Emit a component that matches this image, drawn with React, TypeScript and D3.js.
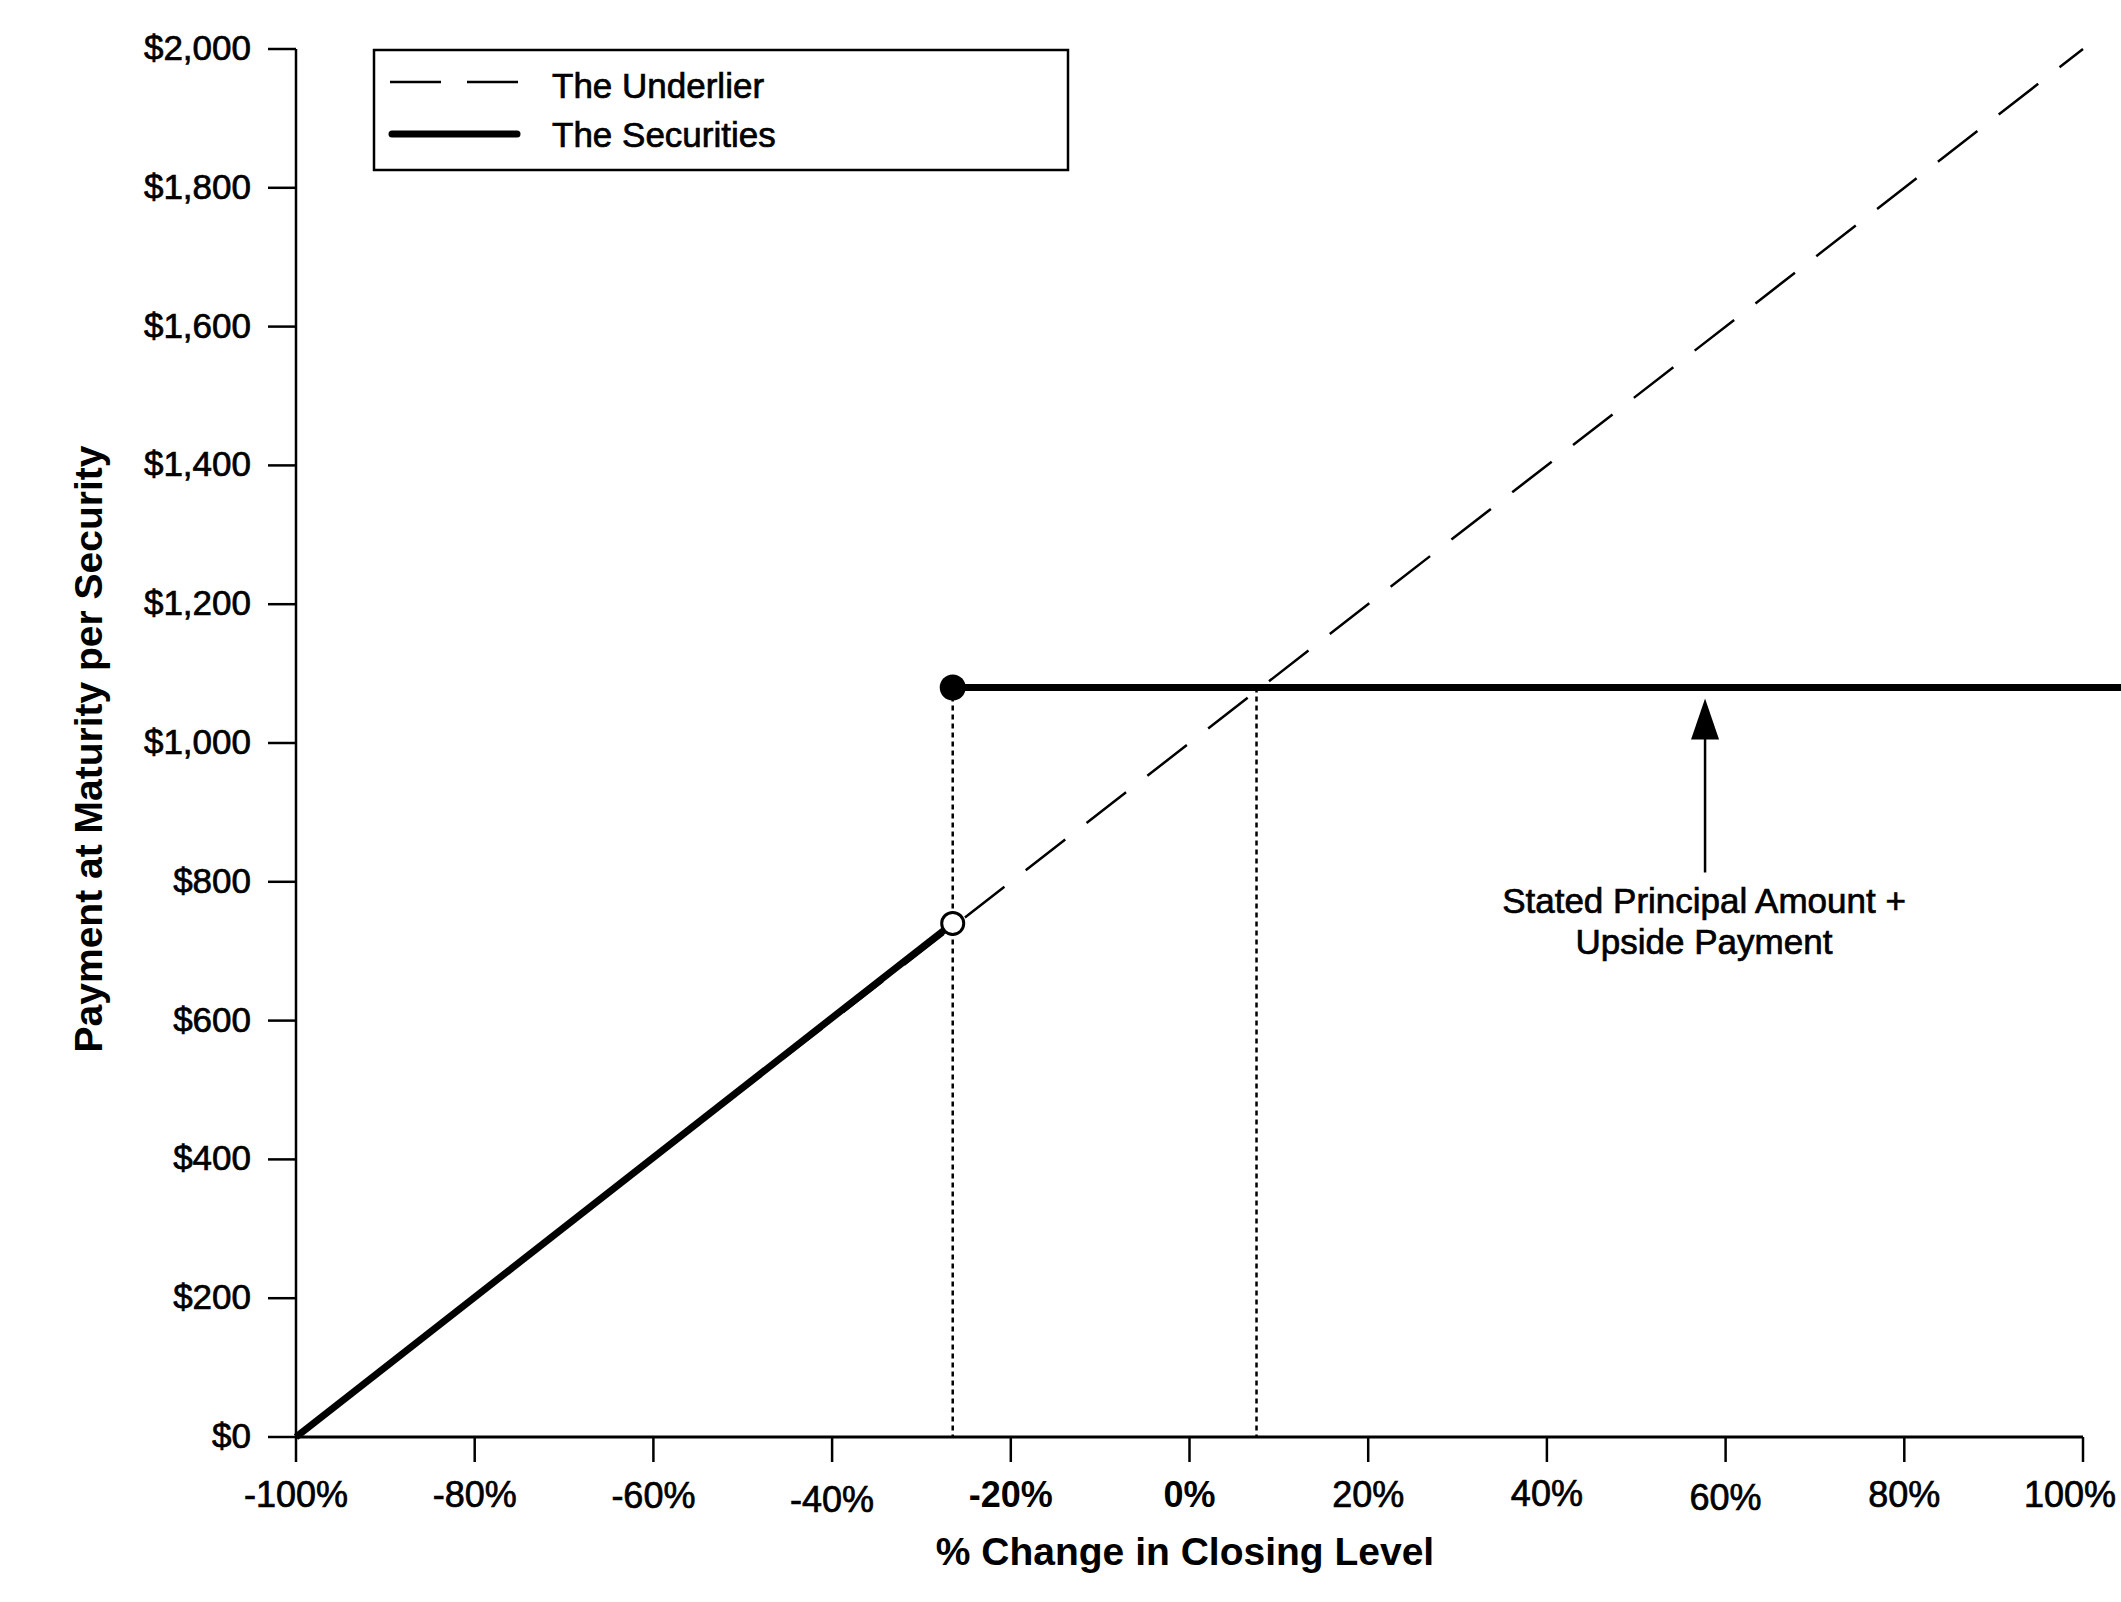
import React from 'react';
import * as d3 from 'd3';

const width = 2121;
const height = 1602;
const font = '"Liberation Sans", Arial, sans-serif';

// % change in closing level vs payment at maturity
const underlierPct = [-100, 100];
const underlierPay = [0, 2000];
const securitiesLowPct = [-100, -26.5];
const securitiesLowPay = [0, 740];
const securitiesHighPct = [-26.5, 105];
const securitiesHighPay = [1080, 1080];
const thresholdPct = -26.5;
const crossPct = 7.5;
const upsidePay = 1080;
const arrowPct = 57.7;

const xTicks = [-100, -80, -60, -40, -20, 0, 20, 40, 60, 80, 100];
const xTickLabels = ['-100%', '-80%', '-60%', '-40%', '-20%', '0%', '20%', '40%', '60%', '80%', '100%'];
const boldTicks = [-20, 0];
const yTicks = [0, 200, 400, 600, 800, 1000, 1200, 1400, 1600, 1800, 2000];
const yTickLabels = ['$0', '$200', '$400', '$600', '$800', '$1,000', '$1,200', '$1,400', '$1,600', '$1,800', '$2,000'];

const legendItems = ['The Underlier', 'The Securities'];
const noteLines = ['Stated Principal Amount +', 'Upside Payment'];

// small baseline nudges seen in the source labels
const labelNudge: { [k: number]: number } = { '-60': 1, '-40': 5, '40': -1, '60': 3 };

const x = d3.scaleLinear().domain([-100, 100]).range([296, 2083]);
const y = d3.scaleLinear().domain([0, 2000]).range([1437, 49]);

const line = d3.line<[number, number]>()
    .x(d => x(d[0]))
    .y(d => y(d[1]));

const zip = (a: number[], b: number[]) => a.map((v, i) => [v, b[i]] as [number, number]);

// the source text renders a touch heavier than plain Liberation Sans
const heavy = { stroke: '#000', strokeWidth: 0.7 };

const App = () => {
    const x0 = x(-100);
    const y0 = y(0);
    const ax = x(arrowPct);
    const ay = y(upsidePay);
    return (
        <svg width={width} height={height} style={{ position: 'absolute', left: 0, top: 0, background: '#fff' }}>
            <rect width={width} height={height} fill="#fff" />

            {/* guide lines */}
            {[thresholdPct, crossPct].map(p => (
                <line key={p} x1={x(p)} x2={x(p)} y1={y(upsidePay)} y2={y0}
                    stroke="#000" strokeWidth={2.5} strokeDasharray="5,4" />
            ))}

            {/* underlier */}
            <path d={line(zip(underlierPct, underlierPay)) || ''} fill="none" stroke="#000"
                strokeWidth={2.5} strokeDasharray="50,27" />

            {/* securities */}
            <path d={line(zip(securitiesLowPct, securitiesLowPay)) || ''} fill="none" stroke="#000" strokeWidth={7} />
            <path d={line(zip(securitiesHighPct, securitiesHighPay)) || ''} fill="none" stroke="#000" strokeWidth={7} />
            <circle cx={x(thresholdPct)} cy={y(securitiesLowPay[1])} r={11} fill="#fff" stroke="#000" strokeWidth={3} />
            <circle cx={x(thresholdPct)} cy={y(securitiesHighPay[0])} r={13} fill="#000" />

            {/* axes */}
            <line x1={x0} x2={x0} y1={y(2000)} y2={y0} stroke="#000" strokeWidth={2.5} />
            <line x1={x0} x2={x(100)} y1={y0} y2={y0} stroke="#000" strokeWidth={3} />
            {yTicks.map((t, i) => (
                <g key={t}>
                    <line x1={x0 - 28} x2={x0} y1={y(t)} y2={y(t)} stroke="#000" strokeWidth={2.5} />
                    <text x={251} y={y(t) + 11} textAnchor="end" fontFamily={font} fontSize={35} fill="#000" {...heavy}>
                        {yTickLabels[i]}
                    </text>
                </g>
            ))}
            {xTicks.map((t, i) => {
                const last = i === xTicks.length - 1;
                const bold = boldTicks.includes(t);
                return (
                    <g key={t}>
                        <line x1={x(t)} x2={x(t)} y1={y0} y2={y0 + 25} stroke="#000" strokeWidth={2.5} />
                        <text x={last ? width - 5 : x(t)} y={y0 + 70 + (labelNudge[t] || 0)}
                            textAnchor={last ? 'end' : 'middle'} fontFamily={font} fontSize={36}
                            fontWeight={bold ? 'bold' : 'normal'} fill="#000" {...(bold ? {} : heavy)}>
                            {xTickLabels[i]}
                        </text>
                    </g>
                );
            })}

            {/* axis titles */}
            <text x={1185} y={1565} textAnchor="middle" fontFamily={font} fontSize={39} fontWeight="bold">
                % Change in Closing Level
            </text>
            <text transform="translate(102,749) rotate(-90)" textAnchor="middle" fontFamily={font}
                fontSize={39} fontWeight="bold">
                Payment at Maturity per Security
            </text>

            {/* legend */}
            <rect x={374} y={50} width={694} height={120} fill="#fff" stroke="#000" strokeWidth={2.5} />
            <line x1={390} x2={519} y1={82} y2={82} stroke="#000" strokeWidth={2.5} strokeDasharray="51,26" />
            <line x1={392} x2={517} y1={134} y2={134} stroke="#000" strokeWidth={7} strokeLinecap="round" />
            {legendItems.map((s, i) => (
                <text key={s} x={552} y={98 + i * 49} fontFamily={font} fontSize={35} fill="#000" {...heavy}>{s}</text>
            ))}

            {/* annotation */}
            <line x1={ax} x2={ax} y1={ay + 50} y2={ay + 185} stroke="#000" strokeWidth={2.5} />
            <path d={`M${ax},${ay + 11} L${ax - 14},${ay + 52} L${ax + 14},${ay + 52} Z`} fill="#000" />
            {noteLines.map((s, i) => (
                <text key={s} x={1704} y={ay + 226 + i * 41} textAnchor="middle" fontFamily={font}
                    fontSize={35} fill="#000" {...heavy}>{s}</text>
            ))}
        </svg>
    );
};

export default App;
